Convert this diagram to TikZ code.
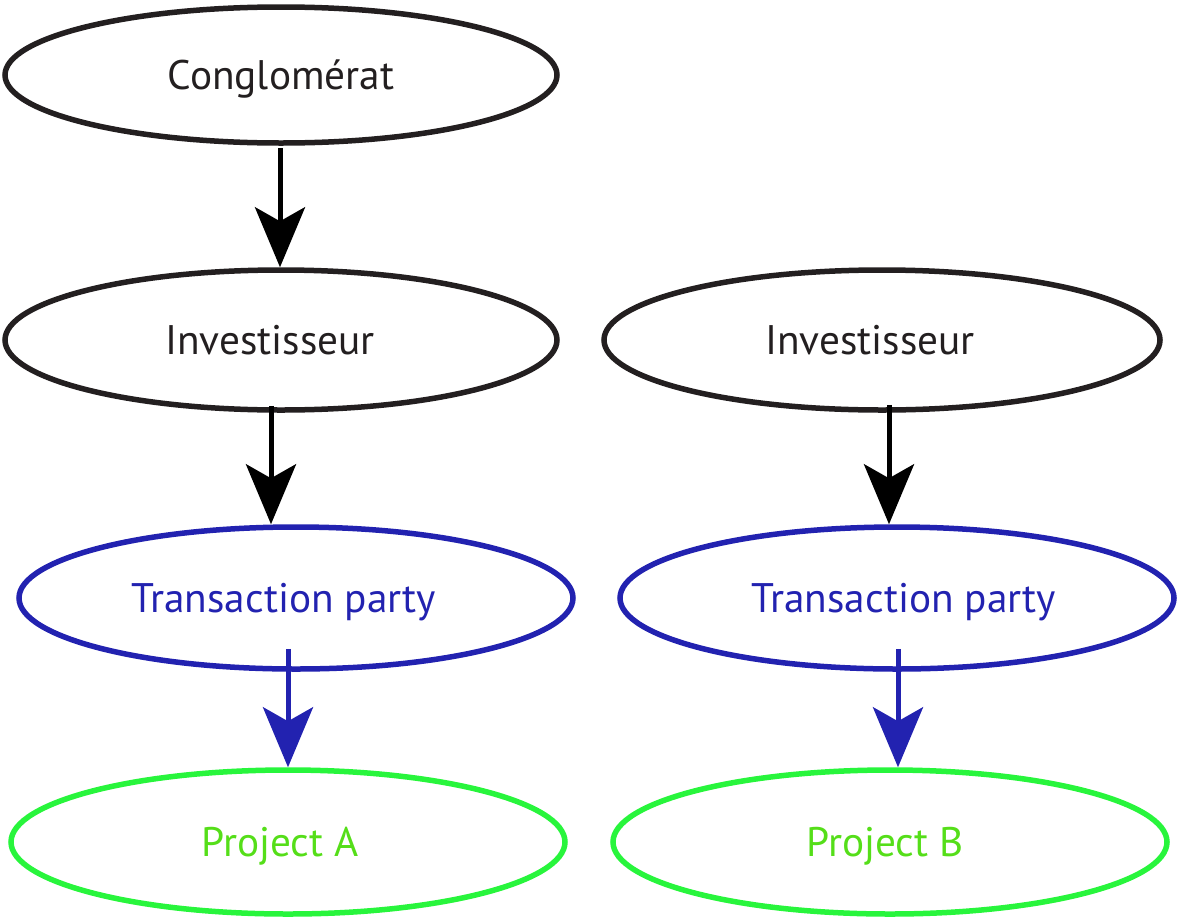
\documentclass[tikz,border=0pt]{standalone}
\usepackage{fontspec}
\setmainfont{PT Sans}
\usetikzlibrary{shapes.geometric,arrows.meta}
\definecolor{ink}{RGB}{35,31,32}
\definecolor{tblue}{RGB}{34,34,176}
\definecolor{pgreen}{RGB}{40,245,60}
\definecolor{tgreen}{RGB}{85,222,25}
\tikzset{
  oval/.style={ellipse,draw=ink,line width=5.5pt,inner sep=0pt,minimum width=554pt,minimum height=140pt},
  lbl/.style={font=\fontsize{41.3}{42}\selectfont,text height=29pt,text depth=0pt,inner sep=0pt,text=ink},
  arr/.style={line width=5pt,-{Stealth[length=60pt,width=50pt,inset=14pt]}},
}
\begin{document}
\begin{tikzpicture}[x=1pt,y=-1pt]
\useasboundingbox (0,0) rectangle (1178,916);
\node[oval,minimum width=552pt,minimum height=136pt,label={[lbl,xshift=0pt]center:Conglomérat}] (c) at (281,75) {};
\node[oval,minimum width=552pt,label={[lbl,xshift=-11pt]center:Investisseur}] (i1) at (281,340) {};
\node[oval,minimum width=556pt,label={[lbl,xshift=-12pt]center:Investisseur}] (i2) at (882,340) {};
\node[oval,draw=tblue,minimum height=142pt,label={[lbl,text=tblue,xshift=-12pt]center:Transaction party}] (t1) at (296,598) {};
\node[oval,draw=tblue,minimum height=142pt,label={[lbl,text=tblue,xshift=7pt]center:Transaction party}] (t2) at (897,598) {};
\node[oval,draw=pgreen,minimum height=144pt,label={[lbl,text=tgreen,xshift=-8pt]center:Project A}] (p1) at (288,842) {};
\node[oval,draw=pgreen,minimum height=144pt,label={[lbl,text=tgreen,xshift=-5pt]center:Project B}] (p2) at (890,842) {};
\draw[arr] ([xshift=-1pt,yshift=-2pt]c.south) -- ([xshift=-1pt]i1.north);
\draw[arr] ([xshift=-10pt,yshift=7pt]i1.south) -- ([xshift=-25pt]t1.north);
\draw[arr] ([xshift=7pt,yshift=8pt]i2.south) -- ([xshift=-8pt]t2.north);
\draw[arr,draw=tblue,fill=tblue] ([xshift=-8pt,yshift=23pt]t1.south) -- (p1.north);
\draw[arr,draw=tblue,fill=tblue] ([xshift=1pt,yshift=23pt]t2.south) -- ([xshift=8pt]p2.north);
\end{tikzpicture}
\end{document}
